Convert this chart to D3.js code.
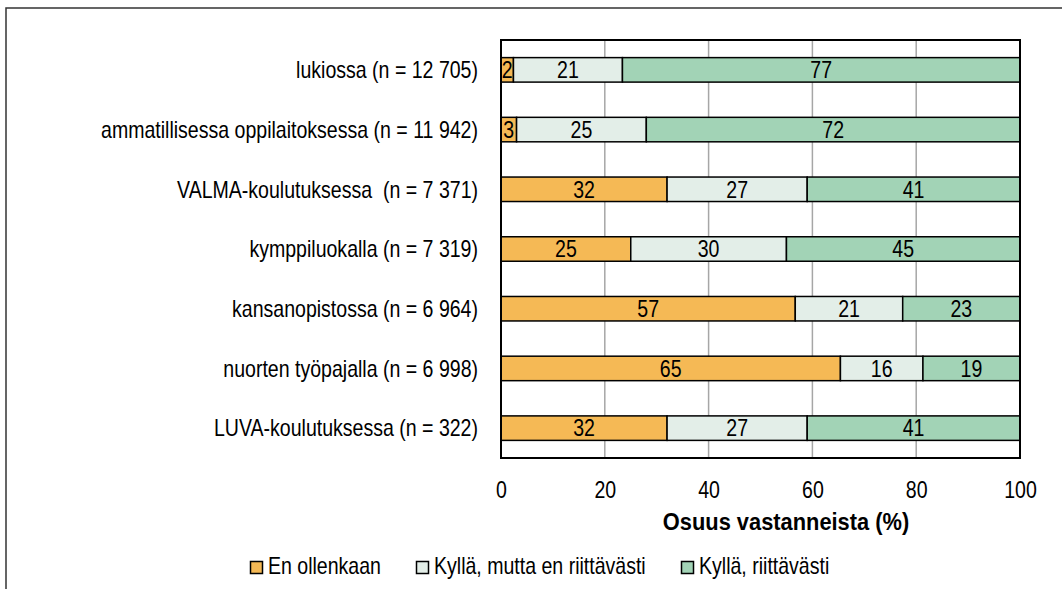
<!DOCTYPE html>
<html>
<head>
<meta charset="utf-8">
<script src="https://cdn.jsdelivr.net/npm/d3@7"></script>
<style>
  body { margin: 0; background: #fff; }
  svg text { font-family: "Liberation Sans", Arial, sans-serif; }
</style>
</head>
<body>
<div id="chart"></div>
<script>
// Data
var categories = [
    "lukiossa (n = 12 705)",
    "ammatillisessa oppilaitoksessa (n = 11 942)",
    "VALMA-koulutuksessa  (n = 7 371)",
    "kymppiluokalla (n = 7 319)",
    "kansanopistossa (n = 6 964)",
    "nuorten työpajalla (n = 6 998)",
    "LUVA-koulutuksessa (n = 322)"
];
var seriesNames = ["En ollenkaan", "Kyllä, mutta en riittävästi", "Kyllä, riittävästi"];
var enOllenkaan = [2.4, 3, 32, 25, 56.7, 65.4, 32];
var kyllaEiRiittavasti = [21, 25, 27, 30, 20.7, 15.9, 27];
var kyllaRiittavasti = [76.6, 72, 41, 45, 22.6, 18.7, 41];
var xTicks = [0, 20, 40, 60, 80, 100];
var colors = ["#f5b955", "#e3eee8", "#a2d3b6"];

var width = 1062, height = 589;
var margin = {top: 40, left: 501, right: 42, bottom: 131};
var narrowScale = 0.85;   // fake an Arial Narrow look

// move x/y into a transform and squeeze the text horizontally
function squeeze(sel, s) {
    sel.each(function () {
        var t = d3.select(this);
        var tx = +t.attr("x") || 0, ty = +t.attr("y") || 0;
        t.attr("x", 0).attr("y", 0)
            .attr("transform", "translate(" + tx + "," + ty + ") scale(" + s + ",1)");
    });
}

var svg = d3.select("#chart").append("svg")
    .attr("width", width)
    .attr("height", height);

// outer frame (cut off at right and bottom)
svg.append("rect")
    .attr("x", 6).attr("y", 8)
    .attr("width", 1200).attr("height", 800)
    .style("fill", "none")
    .style("stroke", "#333")
    .style("stroke-width", 1.5);

var x = d3.scaleLinear()
    .domain([0, 100])
    .range([margin.left, width - margin.right]);

var y = d3.scaleBand()
    .domain(categories)
    .range([margin.top, height - margin.bottom])
    .paddingInner(0.59)
    .paddingOuter(0.295);

// gridlines
svg.append("g")
    .selectAll("line")
    .data(xTicks.slice(1, -1))
    .enter().append("line")
    .attr("x1", function (d) { return x(d); })
    .attr("x2", function (d) { return x(d); })
    .attr("y1", margin.top)
    .attr("y2", height - margin.bottom)
    .style("stroke", "#a6a6a6")
    .style("stroke-width", 1.5);

// stacked bars
var rows = categories.map(function (c, i) {
    return {cat: c, v0: enOllenkaan[i], v1: kyllaEiRiittavasti[i], v2: kyllaRiittavasti[i]};
});
var stack = d3.stack().keys(["v0", "v1", "v2"]);
var layers = stack(rows);

var fmt = d3.format(".0f");

layers.forEach(function (layer, li) {
    var g = svg.append("g");
    g.selectAll("rect")
        .data(layer)
        .enter().append("rect")
        .attr("x", function (d) { return x(d[0]); })
        .attr("width", function (d) { return x(Math.min(d[1], 100)) - x(d[0]); })
        .attr("y", function (d) { return y(d.data.cat); })
        .attr("height", y.bandwidth())
        .style("fill", colors[li])
        .style("stroke", "#000")
        .style("stroke-width", 1.5);

    g.selectAll("text")
        .data(layer)
        .enter().append("text")
        .attr("x", function (d) { return (x(d[0]) + x(Math.min(d[1], 100))) / 2; })
        .attr("y", function (d) { return y(d.data.cat) + y.bandwidth() / 2; })
        .attr("dy", "0.36em")
        .attr("text-anchor", "middle")
        .style("font-size", "23px")
        .style("fill", "#000")
        .text(function (d) { return fmt(d[1] - d[0]); })
        .call(squeeze, narrowScale);
});

// plot area border
svg.append("rect")
    .attr("x", margin.left).attr("y", margin.top)
    .attr("width", width - margin.right - margin.left)
    .attr("height", height - margin.bottom - margin.top)
    .style("fill", "none")
    .style("stroke", "#000")
    .style("stroke-width", 2);

// category labels
svg.append("g")
    .selectAll("text")
    .data(categories)
    .enter().append("text")
    .attr("x", margin.left - 23)
    .attr("y", function (d) { return y(d) + y.bandwidth() / 2; })
    .attr("dy", "0.36em")
    .attr("text-anchor", "end")
    .style("font-size", "23px")
    .style("fill", "#000")
    .style("white-space", "pre")
    .text(function (d) { return d; })
    .call(squeeze, narrowScale);

// x axis tick labels
var xAxis = d3.axisBottom(x).tickValues(xTicks).tickSize(0).tickPadding(0);
var axisG = svg.append("g")
    .attr("transform", "translate(0," + (height - margin.bottom) + ")")
    .call(xAxis);
axisG.select(".domain").remove();
axisG.selectAll("text")
    .attr("y", 32)
    .attr("dy", "0.36em")
    .style("font-size", "23px")
    .style("font-family", "'Liberation Sans', Arial, sans-serif")
    .style("fill", "#000")
    .call(squeeze, narrowScale);

// axis title
svg.append("text")
    .attr("x", 786)
    .attr("y", 522)
    .attr("dy", "0.36em")
    .attr("text-anchor", "middle")
    .style("font-size", "23px")
    .style("font-weight", "bold")
    .style("fill", "#000")
    .text("Osuus vastanneista (%)")
    .call(squeeze, 0.95);

// legend
var legendX = [250, 416, 681];
var legend = svg.append("g")
    .selectAll("g")
    .data(seriesNames)
    .enter().append("g")
    .attr("transform", function (d, i) { return "translate(" + legendX[i] + ",561)"; });
legend.append("rect")
    .attr("x", 0.5).attr("y", 0.5)
    .attr("width", 12).attr("height", 12)
    .style("fill", function (d, i) { return colors[i]; })
    .style("stroke", "#000")
    .style("stroke-width", 1.5);
legend.append("text")
    .attr("x", 18)
    .attr("y", 5)
    .attr("dy", "0.36em")
    .style("font-size", "23px")
    .style("fill", "#000")
    .text(function (d) { return d; })
    .call(squeeze, narrowScale);
</script>
</body>
</html>
